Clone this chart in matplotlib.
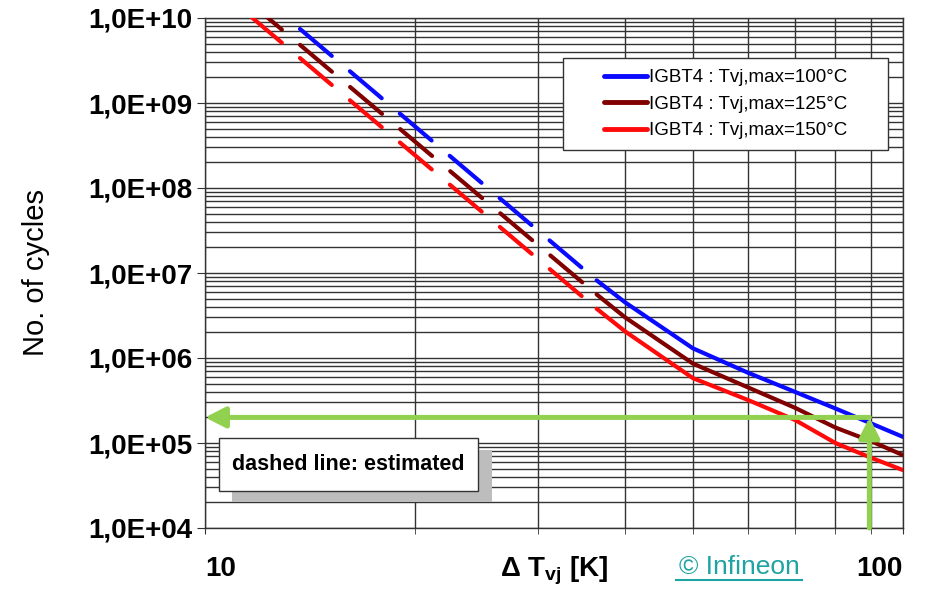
import math

import matplotlib.pyplot as plt
from matplotlib.patches import Rectangle
from matplotlib.lines import Line2D
from matplotlib.ticker import FixedLocator, LogLocator, FuncFormatter, NullFormatter

plt.rcParams['font.family'] = ['Liberation Sans', 'DejaVu Sans']

# estimated part (dashed), straight line in log-log
dT_est_100 = [13.68, 36.4]
N_est_100 = [7.43e9, 8.2e6]
dT_est = [11.6, 36.4]
N_est_125 = [1.51e10, 5.6e6]
N_est_150 = [1.06e10, 3.8e6]

# measured part (solid)
dT = [36.4, 40, 50, 60, 70, 80, 90, 100]
N_100 = [8.2e6, 4.5e6, 1.3e6, 6.7e5, 4.0e5, 2.55e5, 1.7e5, 1.18e5]
N_125 = [5.6e6, 3.0e6, 8.6e5, 4.5e5, 2.6e5, 1.52e5, 1.05e5, 7.2e4]
N_150 = [3.8e6, 2.05e6, 5.8e5, 3.2e5, 1.87e5, 1.0e5, 6.7e4, 4.8e4]

labels = ["IGBT4 : Tvj,max=100°C", "IGBT4 : Tvj,max=125°C", "IGBT4 : Tvj,max=150°C"]
colors = ["#0a0aff", "#800000", "#ff0a0a"]

# read-off example (green arrows)
dT_read = 89.5
N_read = 2.0e5

fig = plt.figure(figsize=(9.3, 5.91), dpi=100)
ax = fig.add_axes([205 / 930, 1 - 528 / 591, 698 / 930, 510 / 591])
ax.set_xscale("log")
ax.set_yscale("log")
ax.set_xlim(10, 100)
ax.set_ylim(1e4, 1e10)

# grid
ax.xaxis.set_major_locator(FixedLocator([10, 100]))
ax.xaxis.set_major_formatter(FuncFormatter(lambda v, p: "%d" % round(v)))
ax.xaxis.set_minor_locator(FixedLocator([20, 30, 40, 50, 60, 70, 80, 90]))
ax.xaxis.set_minor_formatter(NullFormatter())
ax.yaxis.set_major_locator(LogLocator(base=10, numticks=10))
ax.yaxis.set_minor_locator(LogLocator(base=10, subs=range(2, 10), numticks=100))
ax.yaxis.set_minor_formatter(NullFormatter())
ax.yaxis.set_major_formatter(FuncFormatter(lambda v, p: "1,0E+%02d" % round(math.log10(v))))
ax.grid(which="both", color="#333333", lw=1.0, zorder=0)
ax.set_axisbelow(True)
for s in ax.spines.values():
    s.set_color("#333333")
    s.set_linewidth(1.0)

ax.tick_params(axis="y", which="major", direction="out", length=6, pad=3,
               labelsize=20, color="#333333")
ax.tick_params(axis="y", which="minor", length=0)
ax.tick_params(axis="x", which="both", direction="out", length=4, pad=16,
               labelsize=20, color="#333333")
for lab in ax.get_yticklabels():
    lab.set_fontweight("bold")
for lab, ha in zip(ax.get_xticklabels(), ["left", "right"]):
    lab.set_fontweight("bold")
    lab.set_horizontalalignment(ha)

ax.set_ylabel("No. of cycles", fontsize=21)
ax.yaxis.set_label_coords(-0.222, 0.5)
ax.set_xlabel(r"Δ T$_{\mathregular{vj}}$ [K]", fontsize=20, fontweight="bold")
ax.xaxis.set_label_coords(0.5, -0.052)

# curves
for xe, Ne, Ns, c, lab in zip([dT_est_100, dT_est, dT_est],
                              [N_est_100, N_est_125, N_est_150],
                              [N_100, N_125, N_150], colors, labels):
    ax.plot(xe, Ne, color=c, lw=3, dashes=(10, 5.7),
            dash_capstyle="round", zorder=3)
    ax.plot(dT, Ns, color=c, lw=3, solid_capstyle="round", zorder=3, label=lab)

# green read-off arrows
arrow = dict(arrowstyle="-|>,head_length=0.61,head_width=0.31", mutation_scale=20,
             color="#92d050", lw=3.6, shrinkA=0, shrinkB=0)
ax.annotate("", xy=(dT_read, N_read), xytext=(dT_read, 1e4), arrowprops=arrow, zorder=6)
ax.annotate("", xy=(10, N_read), xytext=(dT_read, N_read), arrowprops=arrow, zorder=6)

# legend with separate frame
ax.add_patch(Rectangle((563 / 930, 1 - 150 / 591), 325 / 930, 92 / 591,
                       transform=fig.transFigure, facecolor="white",
                       edgecolor="#333333", lw=1.0, zorder=4, clip_on=False))
leg = ax.legend(loc="center", bbox_to_anchor=(725.5 / 930, 1 - 104 / 591),
                bbox_transform=fig.transFigure, frameon=False, fontsize=13.5,
                handlelength=2.3, handletextpad=0.1, borderpad=0, labelspacing=0.5)
leg.set_zorder(5)
for h in leg.get_lines():
    h.set_linewidth(3.5)

# "dashed line: estimated" box with shadow
ax.add_patch(Rectangle((232 / 930, 1 - 502 / 591), 260 / 930, 52 / 591,
                       transform=fig.transFigure, facecolor="#bdbdbd",
                       edgecolor="none", zorder=4, clip_on=False))
ax.add_patch(Rectangle((219 / 930, 1 - 491 / 591), 259 / 930, 53 / 591,
                       transform=fig.transFigure, facecolor="white",
                       edgecolor="#333333", lw=1.0, zorder=4.5, clip_on=False))
ax.text(348 / 930, 1 - 465 / 591, "dashed line: estimated", fontsize=15.5,
        fontweight="bold", ha="center", va="center", zorder=5,
        transform=fig.transFigure)

# source credit
fig.text(739 / 930, 1 - 567 / 591, "© Infineon", fontsize=19,
         color="#1fa3a3", ha="center", va="center")
fig.add_artist(Line2D([676 / 930, 802 / 930], [1 - 580 / 591, 1 - 580 / 591],
                      transform=fig.transFigure, color="#1fa3a3", lw=1.5))

fig.savefig("out.png", dpi=100)
